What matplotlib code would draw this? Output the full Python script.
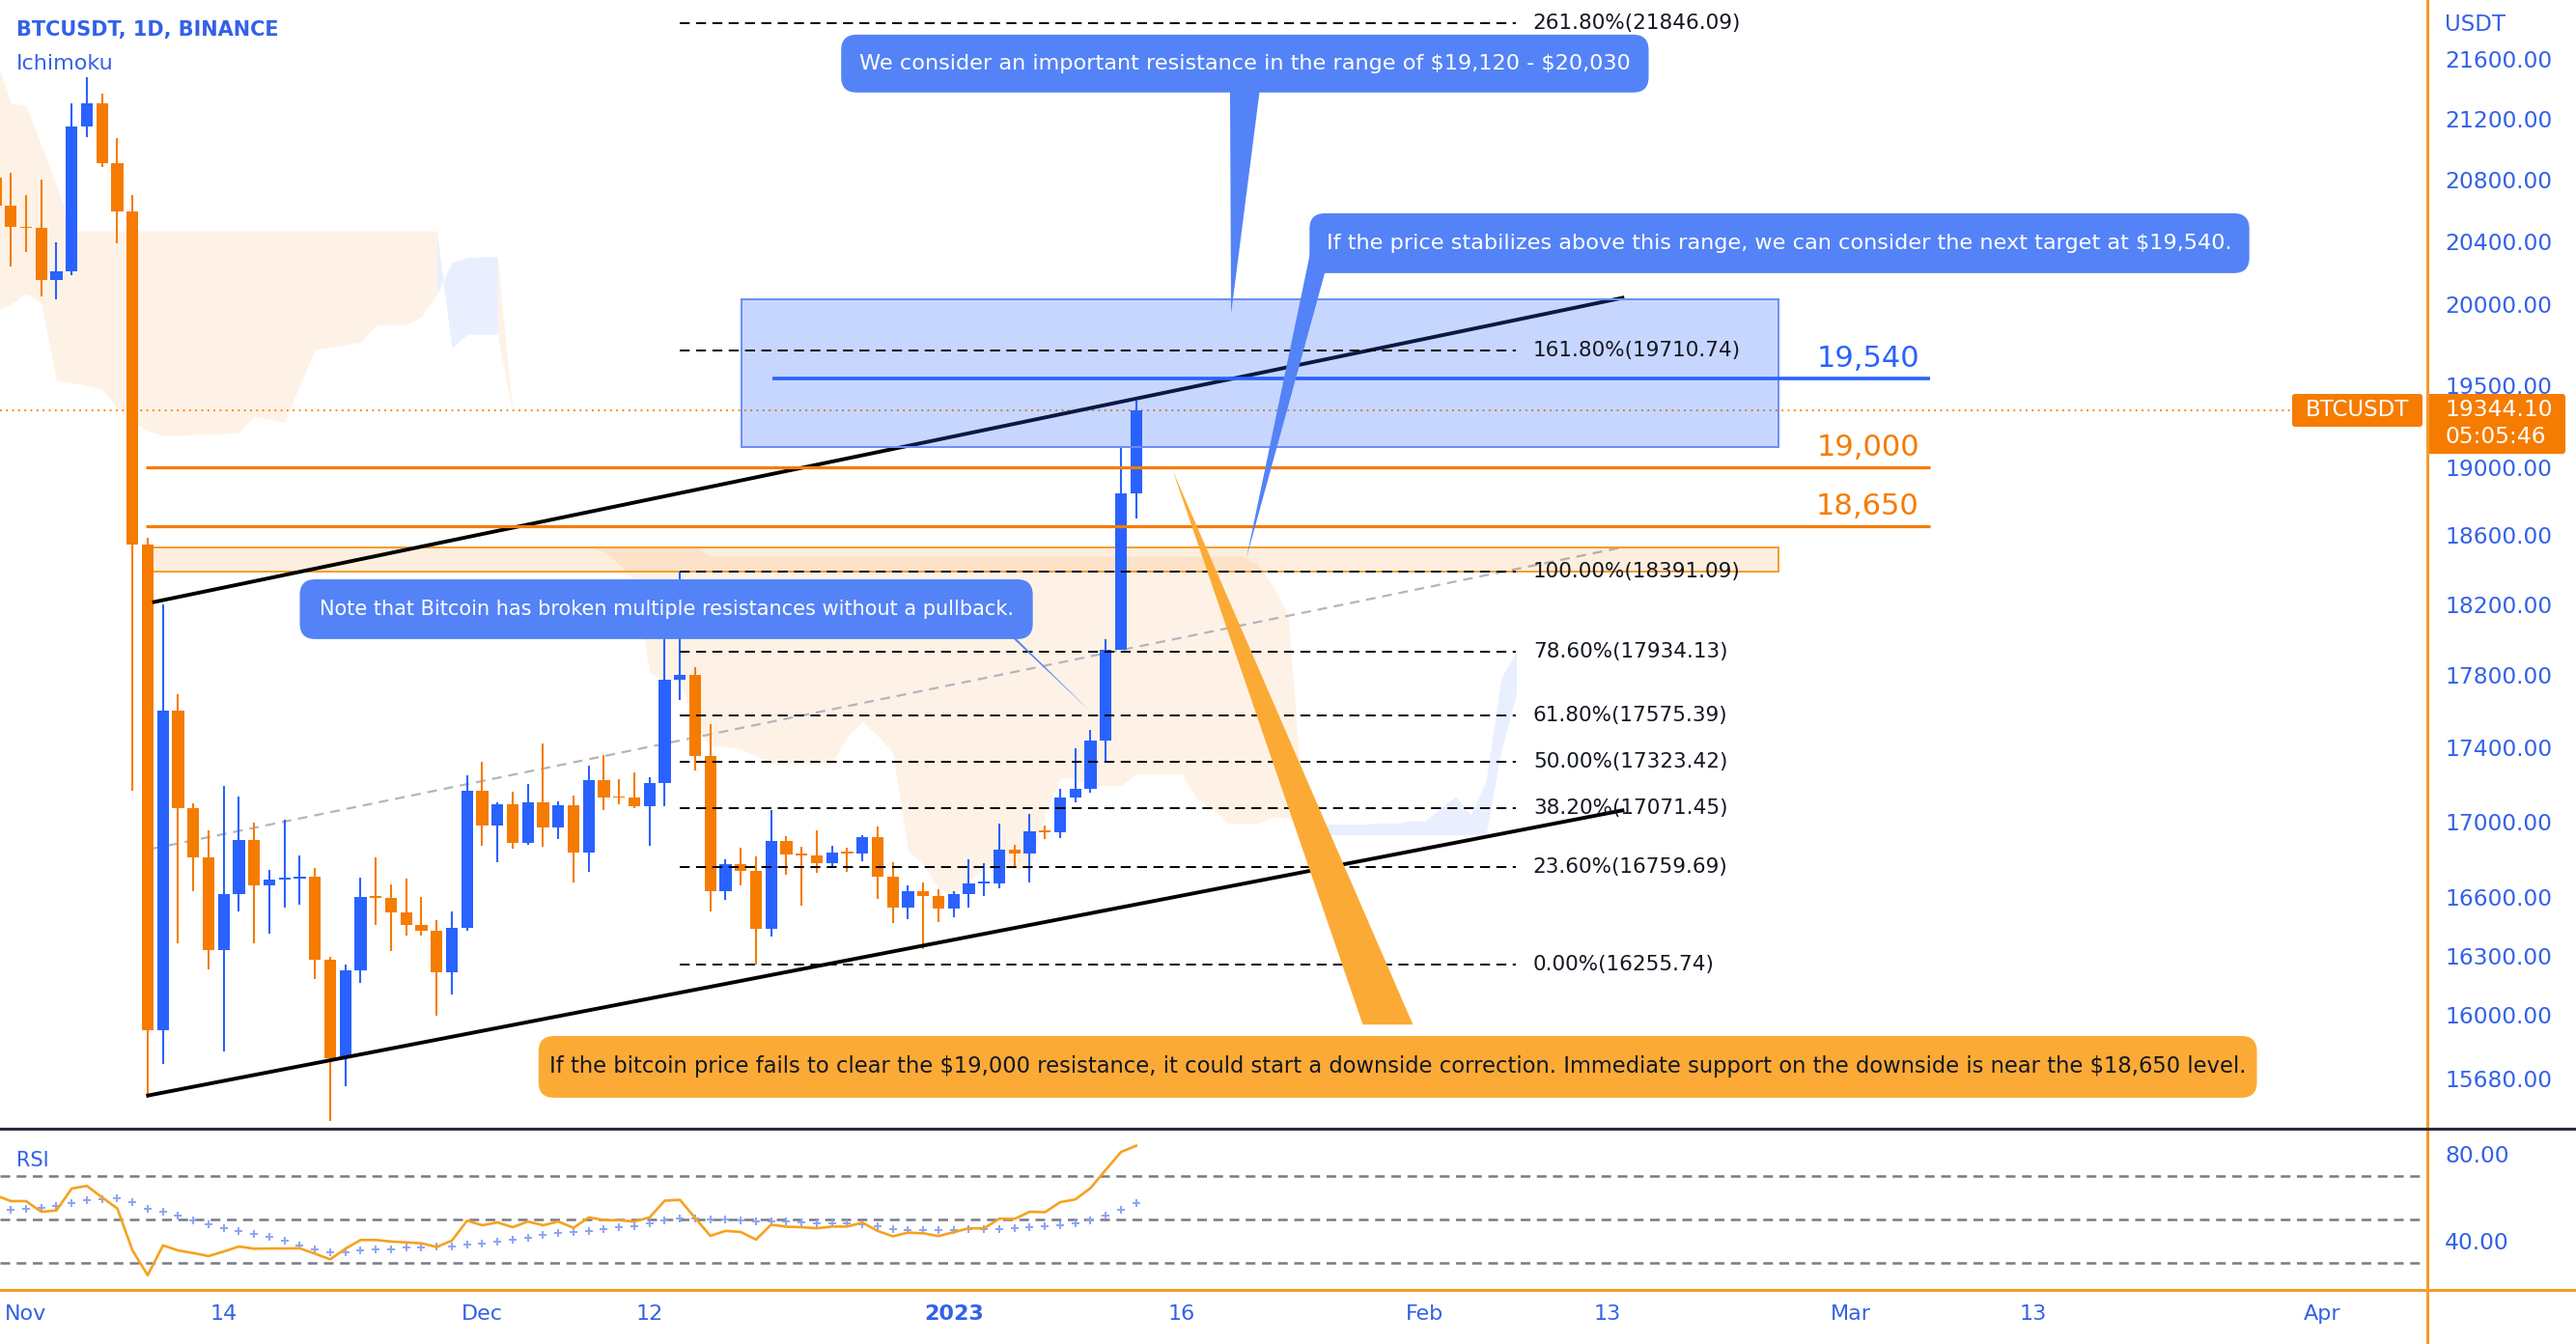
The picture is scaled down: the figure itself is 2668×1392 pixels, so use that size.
import numpy as np
import pandas as pd
import matplotlib
matplotlib.use('Agg')
import matplotlib.pyplot as plt
from matplotlib.patches import FancyBboxPatch, Polygon, Rectangle
from matplotlib.transforms import IdentityTransform
from matplotlib.ticker import NullLocator

plt.rcParams['font.family'] = ['DejaVu Sans']

W, H, DPI = 2668, 1392, 100
BLUE = '#2962ff'
ORANGE = '#f57c00'
SCALE_BLUE = '#3361e8'
AXIS_ORANGE = '#f39c2c'

# ---- daily candles BTCUSDT
candle_dates = pd.date_range('2022-10-30', '2023-01-13', freq='D')
opens = [20810, 20627, 20490, 20483, 20151, 20207, 21148, 21300, 20905, 20591,
         18547, 15922, 17601, 17070, 16812, 16330, 16619, 16900, 16663, 16692,
         16700, 16711, 16280, 15781, 16226, 16603, 16598, 16522, 16458, 16428,
         16212, 16442, 17163, 16977, 17092, 16885, 17105, 16967, 17088, 16836,
         17224, 17128, 17128, 17085, 17209, 17775, 17803, 17356, 16632, 16777,
         16738, 16438, 16895, 16824, 16821, 16778, 16836, 16832, 16919, 16706,
         16547, 16633, 16607, 16542, 16616, 16672, 16675, 16850, 16831, 16950,
         16943, 17127, 17178, 17440, 17944, 18846]
highs = [20920, 20841, 20700, 20800, 20393, 21302, 21480, 21368, 21069, 20700,
         18587, 18199, 17694, 17099, 16954, 17190, 17134, 16995, 16746, 17011,
         16820, 16753, 16291, 16253, 16705, 16812, 16666, 16700, 16600, 16483,
         16525, 17249, 17320, 17105, 17159, 17202, 17424, 17107, 17142, 17299,
         17360, 17227, 17267, 17241, 18000, 18391, 17846, 17530, 16800, 16863,
         16815, 17061, 16925, 16868, 16955, 16869, 16862, 16929, 16973, 16785,
         16664, 16677, 16642, 16631, 16799, 16778, 16991, 16879, 17041, 16981,
         17176, 17398, 17499, 18000, 19117, 19400]
lows = [20500, 20237, 20330, 20048, 20031, 20180, 21080, 20880, 20384, 17166,
        15588, 15754, 16361, 16631, 16229, 15815, 16527, 16361, 16410, 16546,
        16560, 16180, 15476, 15642, 16160, 16458, 16322, 16400, 16400, 15995,
        16100, 16428, 16870, 16787, 16858, 16879, 16867, 16906, 16678, 16733,
        17060, 17092, 17071, 16871, 17080, 17660, 17275, 16527, 16585, 16663,
        16256, 16398, 16720, 16559, 16731, 16760, 16733, 16791, 16592, 16465,
        16488, 16333, 16470, 16499, 16548, 16605, 16646, 16753, 16679, 16908,
        16911, 17104, 17156, 17315, 17943, 18697]
closes = [20627, 20490, 20483, 20151, 20207, 21148, 21300, 20905, 20591, 18547,
          15922, 17601, 17070, 16812, 16330, 16619, 16900, 16663, 16692, 16700,
          16711, 16280, 15781, 16226, 16603, 16598, 16522, 16458, 16428, 16212,
          16442, 17163, 16977, 17092, 16885, 17105, 16967, 17088, 16836, 17224,
          17128, 17127, 17085, 17209, 17775, 17803, 17356, 16632, 16777, 16738,
          16438, 16895, 16824, 16821, 16778, 16836, 16832, 16919, 16706, 16547,
          16633, 16607, 16542, 16616, 16672, 16675, 16850, 16831, 16950, 16943,
          17127, 17178, 17440, 17944, 18846, 19344.1]

# ---- RSI pane
rsi = [61.0, 58.3, 58.3, 53.4, 54.0, 64.1, 65.3, 60.0, 54.9, 35.6,
       24.2, 37.9, 35.6, 34.4, 33.0, 35.1, 37.4, 36.4, 36.5, 36.5,
       36.6, 34.1, 31.5, 36.4, 40.4, 40.4, 39.7, 39.3, 38.9, 37.2,
       40.1, 49.3, 47.2, 48.5, 46.3, 48.9, 47.2, 48.9, 46.0, 50.8,
       49.6, 49.5, 48.9, 50.8, 58.5, 58.9, 50.5, 42.3, 44.6, 44.1,
       40.6, 47.5, 46.5, 46.3, 45.8, 46.6, 46.6, 48.4, 44.6, 42.1,
       43.8, 43.5, 42.2, 44.0, 45.8, 45.8, 50.2, 50.1, 53.4, 53.2,
       57.8, 59.1, 64.3, 72.7, 80.9, 83.8]
rsi_ma = [53.8, 54.2, 54.9, 55.3, 56.1, 57.4, 58.8, 59.3, 59.6, 57.9,
          54.8, 53.4, 51.5, 49.4, 47.8, 46.0, 44.5, 43.1, 41.9, 40.1,
          38.0, 36.2, 34.9, 34.8, 35.6, 36.2, 36.2, 36.8, 37.0, 37.2,
          37.6, 38.3, 38.8, 39.8, 40.5, 41.6, 42.7, 43.6, 44.1, 44.5,
          45.6, 46.3, 46.8, 48.2, 49.6, 50.2, 50.2, 50.0, 50.0, 49.4,
          49.1, 48.9, 48.9, 48.5, 48.2, 48.0, 47.9, 47.5, 46.8, 45.6,
          45.0, 45.0, 45.0, 45.0, 45.5, 45.2, 45.6, 45.9, 46.3, 46.6,
          47.2, 48.2, 49.6, 51.6, 54.3, 57.6]

# ---- Ichimoku cloud (leading spans, shifted ahead)
cloud_dates = pd.date_range('2022-10-30', '2023-02-07', freq='D')
span_a = [19963, 20000, 20067, 20006, 19526, 19514, 19496, 19473, 19355, 19279,
          19220, 19191, 19191, 19197, 19203, 19203, 19209, 19308, 19290, 19273,
          19502, 19716, 19734, 19746, 19764, 19866, 19872, 19872, 19921, 20061,
          20264, 20295, 20301, 20301, 19323, 18534, 18534, 18534, 18534, 18534,
          18506, 18431, 18339, 17811, 17770, 17770, 17518, 17406, 17406, 17392,
          17357, 17311, 17311, 17313, 17311, 17311, 17462, 17541, 17465, 17373,
          16845, 16774, 16647, 16606, 16688, 16750, 16750, 16750, 16750, 17038,
          17232, 17232, 17194, 17194, 17194, 17256, 17256, 17256, 17256, 17121,
          17068, 16990, 16990, 16990, 17025, 17020, 16987, 16987, 16987, 16987,
          16987, 16992, 16992, 17004, 17004, 17072, 17135, 17037, 17215, 17784,
          17934]
span_b = ([21621, 21302, 21289, 21026, 20760] + [20466] * 25 +
          [19728, 19812, 19812, 19812, 19323] + [18534] * 12 + [18478] * 36 +
          [18430, 18305, 18139, 17031] + [16931] * 12 + [17380, 17698])

# ---- drawings
fib_pct = ['261.80%', '161.80%', '100.00%', '78.60%', '61.80%', '50.00%', '38.20%', '23.60%', '0.00%']
fib_price = [21846.09, 19710.74, 18391.09, 17934.13, 17575.39, 17323.42, 17071.45, 16759.69, 16255.74]
fib_span = (43.0, 98.0)
levels = [19540, 19000, 18650]
level_labels = ['19,540', '19,000', '18,650']
level_colors = [BLUE, ORANGE, ORANGE]
level_start = [49.1, 7.9, 7.9]
level_end = 125.2
zone_blue = (47.05, 115.24, 19120, 20030)
zone_orange = (8.3, 115.24, 18391.09, 18530)
channel_upper = ([8.3, 105.1], [18212, 20042])
channel_lower = ([7.9, 105.1], [15597, 17062])
channel_mid = ([8.3, 105.1], [16856, 18532])
last_price = 19344.10

price_ticks = [21600, 21200, 20800, 20400, 20000, 19500, 19000, 18600, 18200,
               17800, 17400, 17000, 16600, 16300, 16000, 15680]
date_ticks = ['2022-11-01', '2022-11-14', '2022-12-01', '2022-12-12', '2023-01-01', '2023-01-16',
              '2023-02-01', '2023-02-13', '2023-03-01', '2023-03-13', '2023-04-01']
date_labels = ['Nov', '14', 'Dec', '12', '2023', '16', 'Feb', '13', 'Mar', '13', 'Apr']

origin = pd.Timestamp('2022-11-01')
cx = (candle_dates - origin).days.values
kx = (cloud_dates - origin).days.values

fig = plt.figure(figsize=(W / DPI, H / DPI), dpi=DPI)
ax = fig.add_axes([0, (H - 1169) / H, 2513 / W, 1169 / H])
ax_r = fig.add_axes([0, (H - 1336) / H, 2513 / W, 167 / H], sharex=ax)
xlim = (-27 / 15.75, (2513 - 27) / 15.75)
ax.set_yscale('log')
ax.set_xlim(*xlim)
ax.set_ylim(15437, 22005)
ax_r.set_ylim(17.42, 91.64)
for a in (ax, ax_r):
    for s in a.spines.values():
        s.set_visible(False)

# cloud, coloured by the sign of A-B at the segment end
A = np.array(span_a, float)
B = np.array(span_b, float)
bull = A > B
cloud_col = {True: '#e9effe', False: '#fef2e6'}
i = 0
while i < len(kx) - 1:
    j = i
    while j + 1 < len(kx) - 1 and bull[j + 2] == bull[i + 1]:
        j += 1
    ax.fill_between(kx[i:j + 2], A[i:j + 2], B[i:j + 2], color=cloud_col[bool(bull[i + 1])], lw=0, zorder=1)
    i = j + 1

# current price dotted line
ax.hlines(last_price, xlim[0], (2374 - 27) / 15.75, color=ORANGE, lw=1.3, ls=(0, (1, 2.5)), zorder=2)

# channel
ax.plot(*channel_mid, color='#b2b5be', lw=1.6, ls=(0, (4.5, 3.2)), zorder=2)
ax.plot(*channel_upper, color='black', lw=2.8, zorder=5, solid_capstyle='butt')
ax.plot(*channel_lower, color='black', lw=2.8, zorder=5, solid_capstyle='butt')

# zones
x0, x1, p0, p1 = zone_orange
ax.add_patch(Rectangle((x0, p0), x1 - x0, p1 - p0, fc=(0.96, 0.49, 0.0, 0.13), ec=AXIS_ORANGE, lw=1.4, zorder=2.5))
x0, x1, p0, p1 = zone_blue
ax.add_patch(Rectangle((x0, p0), x1 - x0, p1 - p0, fc=(0.16, 0.38, 1.0, 0.26), ec='#6a8df7', lw=1.4, zorder=5.5))

# candles
o, h, l, c = (np.array(v, float) for v in (opens, highs, lows, closes))
cols = np.where(c >= o, BLUE, ORANGE)
ax.vlines(cx, l, h, colors=cols, lw=1.5, zorder=4)
ax.bar(cx, np.maximum(np.abs(c - o), 9), bottom=np.minimum(o, c), width=0.78, color=cols, lw=0, zorder=4.1)

# fib retracement
for pct, pr in zip(fib_pct, fib_price):
    ax.hlines(pr, *fib_span, color='black', lw=1.4, ls=(0, (5.3, 3.4)), zorder=6)
    ax.text(fib_span[1] + 1.1, pr, f'{pct}({pr:.2f})', va='center', ha='left', fontsize=15.5, color='#131722', zorder=7)

# horizontal levels
for lv, lb, col, st in zip(levels, level_labels, level_colors, level_start):
    ax.hlines(lv, st, level_end, color=col, lw=2.6 if col == BLUE else 2.3, zorder=6)
    ax.annotate(lb, xy=(level_end - 0.7, lv), xytext=(0, 12), textcoords='offset pixels',
                ha='right', va='baseline', fontsize=22, color=col, zorder=7)

# axis labels
ax.yaxis.tick_right()
ax.set_yticks(price_ticks)
ax.set_yticklabels([f'{t:.2f}' for t in price_ticks])
ax.yaxis.set_minor_locator(NullLocator())
ax.tick_params(axis='y', length=0, pad=13.7, labelsize=16.8, labelcolor=SCALE_BLUE)
ax.tick_params(axis='x', bottom=False, labelbottom=False)

# RSI pane
for lvl in (70, 50, 30):
    ax_r.axhline(lvl, color='#787b86', lw=1.8, ls=(0, (4, 2.7)), zorder=1)
ax_r.plot(cx, rsi, color='#f6a21e', lw=1.9, zorder=3)
ax_r.plot(cx, rsi_ma, ls='none', marker='+', ms=6, mew=1.4, color='#8ea3f2', zorder=2)
ax_r.yaxis.tick_right()
ax_r.set_yticks([80, 40])
ax_r.set_yticklabels(['80.00', '40.00'])
ax_r.tick_params(axis='y', length=0, pad=13.7, labelsize=16.8, labelcolor=SCALE_BLUE)
tick_x = [(pd.Timestamp(d) - origin).days for d in date_ticks]
ax_r.set_xticks(tick_x)
ax_r.set_xticklabels(date_labels)
ax_r.tick_params(axis='x', length=0, pad=11, labelsize=16, labelcolor=SCALE_BLUE)
for t in ax_r.get_xticklabels():
    if t.get_text() == '2023':
        t.set_fontweight('bold')


def px(x, p):
    return ax.transData.transform((x, p))


def callout(x0, x1, p_lo, p_hi, pointer, text, fc, tc, fs):
    X0, Y0 = px(x0, p_lo)
    X1, Y1 = px(x1, p_hi)
    ax.add_patch(FancyBboxPatch((X0, Y0), X1 - X0, Y1 - Y0, boxstyle='round,pad=0,rounding_size=16',
                                transform=IdentityTransform(), fc=fc, ec='none', zorder=9, clip_on=False))
    ax.add_patch(Polygon(pointer, closed=True, fc=fc, ec='none', zorder=9))
    ax.text((x0 + x1) / 2, np.sqrt(p_lo * p_hi), text, color=tc, fontsize=fs,
            ha='center', va='center', zorder=10, parse_math=False)


CALL_BLUE = '#5483f7'
CALL_ORANGE = '#fcaa36'
callout(53.6, 106.7, 21375, 21767, [(79.17, 21450), (81.2, 21450), (79.24, 19939)],
        'We consider an important resistance in the range of $19,120 - $20,030', CALL_BLUE, 'white', 16.1)
callout(84.4, 146.2, 20196, 20579, [(84.44, 20323), (86.5, 20300), (85.4, 20196), (80.25, 18467)],
        'If the price stabilizes above this range, we can consider the next target at $19,540.', CALL_BLUE, 'white', 16.1)
callout(18.0, 66.2, 18003, 18344, [(64.0, 18100), (66.2, 18069), (64.95, 18003), (70.0, 17598)],
        'Note that Bitcoin has broken multiple resistances without a pullback.', CALL_BLUE, 'white', 15)
callout(33.7, 146.7, 15588, 15893, [(87.9, 15950), (91.2, 15950), (75.4, 18983)],
        'If the bitcoin price fails to clear the $19,000 resistance, it could start a downside correction. '
        'Immediate support on the downside is near the $18,650 level.', CALL_ORANGE, '#131722', 16.3)

# frame lines
fig.add_artist(plt.Line2D([2513.5, 2513.5], [0, H], transform=IdentityTransform(), color=AXIS_ORANGE, lw=2.2))
fig.add_artist(plt.Line2D([0, W], [H - 1169, H - 1169], transform=IdentityTransform(), color='#2a2e39', lw=2.2))
fig.add_artist(plt.Line2D([0, W], [H - 1336, H - 1336], transform=IdentityTransform(), color=AXIS_ORANGE, lw=2.2))

# last price tags
yp = px(0, last_price)[1]
fig.add_artist(FancyBboxPatch((2374, yp - 17), 135, 34, boxstyle='round,pad=0,rounding_size=3',
                              transform=IdentityTransform(), fc=ORANGE, ec='none'))
fig.text(2441, yp, 'BTCUSDT', transform=IdentityTransform(), color='white', fontsize=16.5, ha='center', va='center')
fig.add_artist(FancyBboxPatch((2514, yp - 45), 143, 62, boxstyle='round,pad=0,rounding_size=3',
                              transform=IdentityTransform(), fc=ORANGE, ec='none'))
fig.text(2532, yp, '19344.10', transform=IdentityTransform(), color='white', fontsize=16.8, ha='left', va='center')
fig.text(2532, yp - 28, '05:05:46', transform=IdentityTransform(), color='white', fontsize=16.8, ha='left', va='center')

fig.text(2532, H - 26, 'USDT', transform=IdentityTransform(), color=SCALE_BLUE, fontsize=16.5, ha='left', va='center')
fig.text(17, H - 31, 'BTCUSDT, 1D, BINANCE', transform=IdentityTransform(), color=SCALE_BLUE,
         fontsize=15, fontweight='bold', ha='left', va='center')
fig.text(17, H - 66, 'Ichimoku', transform=IdentityTransform(), color=SCALE_BLUE, fontsize=16, ha='left', va='center')
fig.text(17, H - 1202, 'RSI', transform=IdentityTransform(), color=SCALE_BLUE, fontsize=15, ha='left', va='center')

fig.savefig('out.png', dpi=DPI)
